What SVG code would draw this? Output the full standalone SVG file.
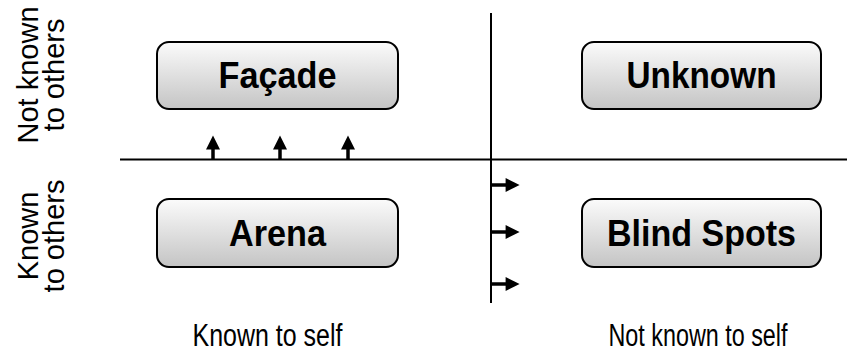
<svg xmlns="http://www.w3.org/2000/svg" width="847" height="354" viewBox="0 0 847 354">
  <defs>
    <linearGradient id="boxFill" x1="0" y1="0" x2="0" y2="1">
      <stop offset="0" stop-color="#fbfbfb"/>
      <stop offset="1" stop-color="#c4c4c4"/>
    </linearGradient>
    <marker id="head" viewBox="0 0 10 10" refX="1" refY="5" markerWidth="14" markerHeight="15" markerUnits="userSpaceOnUse" orient="auto" overflow="visible">
      <path d="M0,0 L10,5 L0,10 Z" fill="#000"/>
    </marker>
  </defs>
  <style>
    .box { fill: url(#boxFill); stroke: #000; stroke-width: 2; }
    .title { font-family: "Liberation Sans", Arial, sans-serif; font-weight: bold; font-size: 37px; fill: #000; text-anchor: middle; }
    .label { font-family: "Liberation Sans", Arial, sans-serif; font-size: 29px; fill: #000; text-anchor: middle; }
    .label.bottom { font-size: 31px; }
    .axis { stroke: #000; stroke-width: 2; fill: none; }
    .arrow { stroke: #000; stroke-width: 3.5; fill: none; marker-end: url(#head); }
  </style>

  <!-- axes and arrows -->
  <g id="connectors">
    <line class="axis" x1="120" y1="159.5" x2="847" y2="159.5"/>
    <line class="axis" x1="491" y1="13" x2="491" y2="303"/>
    <line class="arrow" x1="213" y1="159" x2="213" y2="148"/>
    <line class="arrow" x1="280" y1="159" x2="280" y2="148"/>
    <line class="arrow" x1="348" y1="159" x2="348" y2="148"/>
    <line class="arrow" x1="491" y1="185" x2="507" y2="185"/>
    <line class="arrow" x1="491" y1="232" x2="507" y2="232"/>
    <line class="arrow" x1="491" y1="284" x2="507" y2="284"/>
  </g>

  <g id="facade">
    <rect class="box" x="157" y="42" width="241" height="67" rx="12"/>
    <text class="title" x="277.5" y="88" textLength="118" lengthAdjust="spacingAndGlyphs">Façade</text>
  </g>
  <g id="unknown">
    <rect class="box" x="582" y="42" width="239" height="67" rx="12"/>
    <text class="title" x="701.5" y="88" textLength="150" lengthAdjust="spacingAndGlyphs">Unknown</text>
  </g>
  <g id="arena">
    <rect class="box" x="157" y="199" width="241" height="68" rx="12"/>
    <text class="title" x="277.5" y="246" textLength="97" lengthAdjust="spacingAndGlyphs">Arena</text>
  </g>
  <g id="blind-spots">
    <rect class="box" x="582" y="199" width="239" height="68" rx="12"/>
    <text class="title" x="701.5" y="246" textLength="189" lengthAdjust="spacingAndGlyphs">Blind Spots</text>
  </g>

  <!-- axis captions -->
  <g id="caption-not-known-others" transform="translate(38,75) rotate(-90)">
    <text class="label" x="0" y="0">Not known</text>
    <text class="label" x="0" y="26">to others</text>
  </g>
  <g id="caption-known-others" transform="translate(38,236) rotate(-90)">
    <text class="label" x="0" y="0">Known</text>
    <text class="label" x="0" y="26">to others</text>
  </g>
  <text id="caption-known-self" class="label bottom" x="267.5" y="346" textLength="150" lengthAdjust="spacingAndGlyphs">Known to self</text>
  <text id="caption-not-known-self" class="label bottom" x="698" y="346" textLength="179" lengthAdjust="spacingAndGlyphs">Not known to self</text>
</svg>
